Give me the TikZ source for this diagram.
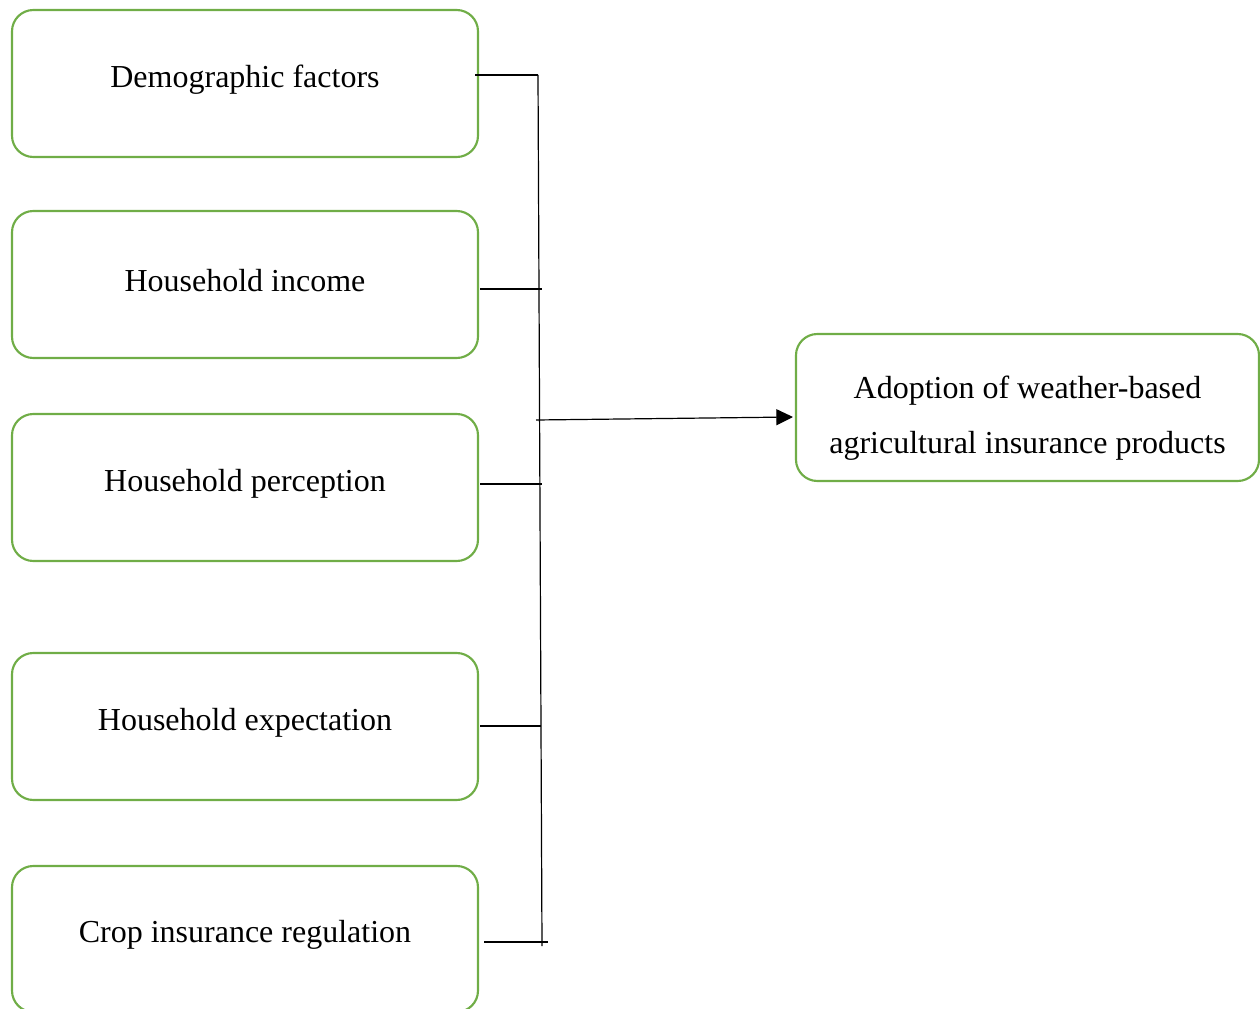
\documentclass[tikz,border=0pt]{standalone}
\usepackage{fontspec}
\setmainfont{Liberation Serif}
\usetikzlibrary{arrows.meta}
\definecolor{boxgreen}{RGB}{112,173,71}
\begin{document}
\begin{tikzpicture}[x=0.75pt,y=-0.75pt,
  factor/.style={draw=boxgreen, line width=1.6pt, rounded corners=16pt, minimum width=466*0.75pt, minimum height=147*0.75pt, inner sep=0pt},
  txt/.style={inner sep=0pt, font=\fontsize{24}{41}\selectfont, align=center},
  link/.style={black, line width=0.9pt}]
\useasboundingbox (0,0) rectangle (1260,1009);
\begin{scope}
\clip (0,0) rectangle (1260,1009);
\node[factor] (d) at (245,83.5) {};
\node[factor] (i) at (245,284.5) {};
\node[factor] (p) at (245,487.5) {};
\node[factor] (e) at (245,726.5) {};
\node[factor, minimum height=146*0.75pt] (c) at (245,939) {};
\node[factor, minimum width=463*0.75pt] (a) at (1027.5,407.5) {};
\end{scope}
\node[txt] (dt) at ([yshift=2.8pt]d.center) {Demographic factors};
\node[txt] (it) at ([yshift=2.8pt]i.center) {Household income};
\node[txt] (pt) at ([yshift=2.8pt]p.center) {Household perception};
\node[txt] (et) at ([yshift=2.8pt]e.center) {Household expectation};
\node[txt] (ct) at ([yshift=2.8pt]c.center) {Crop insurance regulation};
\node[txt] (at) at ([yshift=-8.2pt]a.center) {Adoption of weather-based\\agricultural insurance products};
\coordinate (t) at (538,75);
\coordinate (b) at (542,946);
\coordinate (d1) at (475,75);
\coordinate (i1) at (480,289);
\coordinate (i2) at (542,289);
\coordinate (p1) at (480,484);
\coordinate (p2) at (542,484);
\coordinate (e1) at (480,726);
\coordinate (e2) at (541,726);
\coordinate (c1) at (484,942);
\coordinate (c2) at (548,942);
\coordinate (m) at (536,420);
\coordinate (aw) at (793,417);
\draw[link] (d1) -- (t);
\draw[link] (t) -- (b);
\draw[link] (i1) -- (i2);
\draw[link] (p1) -- (p2);
\draw[link] (e1) -- (e2);
\draw[link] (c1) -- (c2);
\draw[link, -{Triangle[length=12.5pt,width=12pt]}] (m) -- (aw);
\end{tikzpicture}
\end{document}
